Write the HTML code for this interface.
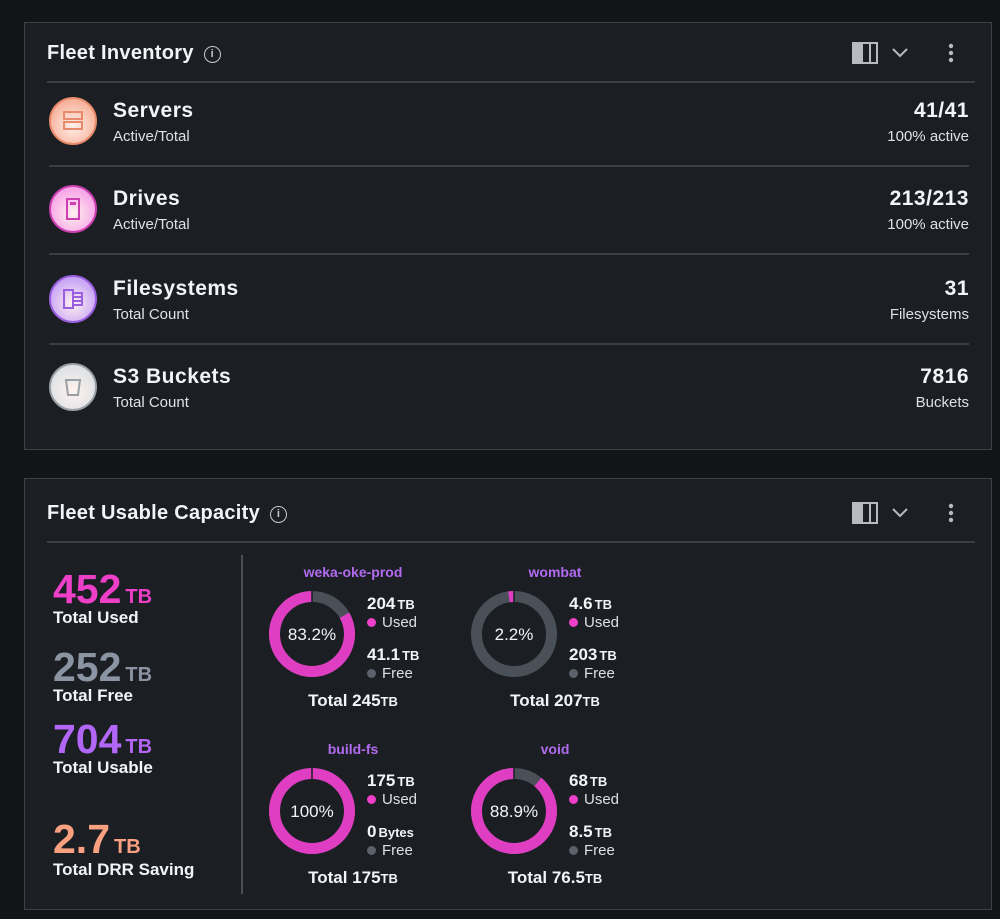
<!DOCTYPE html>
<html><head><meta charset="utf-8"><style>
*{box-sizing:border-box;margin:0;padding:0}
body{width:1000px;height:919px;background:#121417;font-family:"Liberation Sans",sans-serif;color:#f2f4f8;position:relative;overflow:hidden}
.panel{position:absolute;left:24px;width:968px;background:#1b1e22;border:1.5px solid #3d4248}
.abs{position:absolute}
.title{font-size:20px;font-weight:bold;left:22px;top:19px;letter-spacing:0.3px}
.info{display:inline-block;width:17px;height:17px;border:1.6px solid #c6c9cd;border-radius:50%;font-size:11px;text-align:center;line-height:14px;color:#c6c9cd;font-weight:bold;vertical-align:2px;margin-left:10px}
.hl{height:2px;background:#3a3f45}
.rt{font-size:21px;font-weight:bold;letter-spacing:0.5px}
.st{font-size:15px;color:#dde0e4}
.rv{right:22px;text-align:right}
.ic{width:48px;height:48px;border-radius:50%;left:24px}
.big{font-size:41px;font-weight:bold;left:28px;line-height:1}
.big span{font-size:20px;margin-left:4px}
.lab{font-size:17px;font-weight:bold;left:28px}
.fn{font-size:14px;font-weight:bold;color:#b26bf0;text-align:center;width:160px}
.lv{font-size:17px;font-weight:bold}
.lv span{font-size:13px;margin-left:2px}
.lg{font-size:15px;color:#dde0e4}
.dot{display:inline-block;width:9px;height:9px;border-radius:50%;margin-right:6px}
.tot{font-size:17px;font-weight:bold;text-align:center;width:160px}
.tot span{font-size:13px}
</style></head><body>
<div class="panel" style="top:22px;height:428px">
 <div class="abs title">Fleet Inventory<span class="info">i</span></div>
 <svg class="abs" style="left:826px;top:18px" width="130" height="26">
  <g><rect x="2" y="2" width="24" height="20" fill="none" stroke="#b7bbc0" stroke-width="2"/><rect x="3" y="3" width="9" height="18" fill="#b7bbc0"/><line x1="19" y1="2" x2="19" y2="22" stroke="#b7bbc0" stroke-width="2"/></g>
  <polyline points="42,8 49,15 56,8" fill="none" stroke="#b7bbc0" stroke-width="2"/>
  <g fill="#b7bbc0"><circle cx="100" cy="5" r="2.2"/><circle cx="100" cy="12" r="2.2"/><circle cx="100" cy="19" r="2.2"/></g>
 </svg>
 <div class="abs hl" style="left:22px;top:58px;width:928px"></div>
 <div id="rows"></div>
</div>
<div class="panel" style="top:478px;height:432px">
 <div class="abs title" style="top:23px">Fleet Usable Capacity<span class="info">i</span></div>
 <svg class="abs" style="left:826px;top:22px" width="130" height="26">
  <g><rect x="2" y="2" width="24" height="20" fill="none" stroke="#b7bbc0" stroke-width="2"/><rect x="3" y="3" width="9" height="18" fill="#b7bbc0"/><line x1="19" y1="2" x2="19" y2="22" stroke="#b7bbc0" stroke-width="2"/></g>
  <polyline points="42,8 49,15 56,8" fill="none" stroke="#b7bbc0" stroke-width="2"/>
  <g fill="#b7bbc0"><circle cx="100" cy="5" r="2.2"/><circle cx="100" cy="12" r="2.2"/><circle cx="100" cy="19" r="2.2"/></g>
 </svg>
 <div class="abs hl" style="left:22px;top:62px;width:928px"></div>
 <div class="abs big" style="top:90px;color:#ee3fc8">452<span>TB</span></div>
 <div class="abs lab" style="top:129px">Total Used</div>
 <div class="abs big" style="top:168px;color:#8a94a3">252<span>TB</span></div>
 <div class="abs lab" style="top:207px">Total Free</div>
 <div class="abs big" style="top:240px;color:#b266f5">704<span>TB</span></div>
 <div class="abs lab" style="top:279px">Total Usable</div>
 <div class="abs big" style="top:340px;color:#f8a080">2.7<span>TB</span></div>
 <div class="abs lab" style="top:381px">Total DRR Saving</div>
 <div class="abs" style="left:216px;top:76px;width:2px;height:339px;background:#4a4f55"></div>
 <div id="fs"></div>
</div>
<script>
const rowNames=["Servers","Drives","Filesystems","S3 Buckets"];
const rowSubs=["Active/Total","Active/Total","Total Count","Total Count"];
const rowValues=["41/41","213/213","31","7816"];
const rowValueSubs=["100% active","100% active","Filesystems","Buckets"];
const iconColors=[["#f7b39c","#e88a6c"],["#f6a6e8","#cc3fb0"],["#c9a6f6","#9a5fe0"],["#dfe2e6","#9aa0a6"]];
const fsNames=["weka-oke-prod","wombat","build-fs","void"];
const fsUsed=[204,4.6,175,68];
const fsUsedLabels=["204","4.6","175","68"];
const fsFreeLabels=[["41.1","TB"],["203","TB"],["0","Bytes"],["8.5","TB"]];
const fsPct=[83.2,2.2,100,88.9];
const fsPctLabels=["83.2%","2.2%","100%","88.9%"];
const fsTotals=["245","207","175","76.5"];

const rows=document.getElementById('rows');
const rowTops=[68,156,246,334];
rowNames.forEach((n,i)=>{
 const t=rowTops[i];
 const r=document.createElement('div');
 
 
 const c=iconColors[i];
 r.innerHTML=`<div class="abs ic" style="top:${t+6}px;background:radial-gradient(circle at 50% 60%,#fff2ee 0%,${c[0]} 70%);border:2px solid ${c[1]}"></div>
 <svg class="abs" style="left:36px;top:${t+18}px" width="24" height="24" viewBox="0 0 24 24">
 ${i==0?`<rect x="3" y="3" width="18" height="7" fill="none" stroke="${c[1]}" stroke-width="2"/><rect x="3" y="13" width="18" height="7" fill="none" stroke="${c[1]}" stroke-width="2"/>`:
 i==1?`<rect x="6" y="2" width="12" height="20" fill="none" stroke="${c[1]}" stroke-width="2"/><rect x="9" y="5" width="6" height="3" fill="${c[1]}"/>`:
 i==2?`<rect x="3" y="3" width="9" height="18" fill="none" stroke="${c[1]}" stroke-width="2"/><path d="M12 6h9v12h-9M12 10h9M12 14h9" fill="none" stroke="${c[1]}" stroke-width="2"/>`:
 `<path d="M5 5h14l-2 15H7z" fill="none" stroke="${c[1]}" stroke-width="2"/>`}</svg>
 <div class="abs rt" style="left:88px;top:${t+8}px">${n}</div>
 <div class="abs st" style="left:88px;top:${t+37}px">${rowSubs[i]}</div>
 <div class="abs rt rv" style="top:${t+8}px">${rowValues[i]}</div>
 <div class="abs st rv" style="top:${t+37}px">${rowValueSubs[i]}</div>
 ${i<3?`<div class="abs hl" style="left:24px;top:${t+74}px;width:920px"></div>`:''}`;
 rows.appendChild(r);
});

const fs=document.getElementById('fs');
const R=37.5,C=2*Math.PI*R;
fsNames.forEach((n,i)=>{
 const bx=[248,450][i%2], by=[90,267][Math.floor(i/2)];
 const g=document.createElement('div');
 
 
 const used=fsPct[i]/100*C;
 g.innerHTML=`<div class="abs fn" style="left:${bx}px;top:${by-5}px">${n}</div>
 <svg class="abs" style="left:${bx-6}px;top:${by+20}px" width="90" height="90">
  <circle cx="45" cy="45" r="${R}" fill="none" stroke="#4a5058" stroke-width="11"/>
  <circle cx="45" cy="45" r="${R}" fill="none" stroke="#e03ec2" stroke-width="11" stroke-dasharray="${used} ${C}" transform="translate(90,0) scale(-1,1) rotate(-90 45 45)"/>
  <line x1="45" y1="2" x2="45" y2="13" stroke="#1b1e22" stroke-width="1.5"/>
  <text x="45" y="51" text-anchor="middle" font-size="17" fill="#f2f4f8" font-family="Liberation Sans">${fsPctLabels[i]}</text>
 </svg>
 <div class="abs lv" style="left:${bx+94}px;top:${by+25}px">${fsUsedLabels[i]}<span>TB</span></div>
 <div class="abs lg" style="left:${bx+94}px;top:${by+45}px"><span class="dot" style="background:#ee3fc8"></span>Used</div>
 <div class="abs lv" style="left:${bx+94}px;top:${by+76}px">${fsFreeLabels[i][0]}<span>${fsFreeLabels[i][1]}</span></div>
 <div class="abs lg" style="left:${bx+94}px;top:${by+96}px"><span class="dot" style="background:#5b626b"></span>Free</div>
 <div class="abs tot" style="left:${bx}px;top:${by+122}px">Total ${fsTotals[i]}<span>TB</span></div>`;
 fs.appendChild(g);
});
</script>
</body></html>
